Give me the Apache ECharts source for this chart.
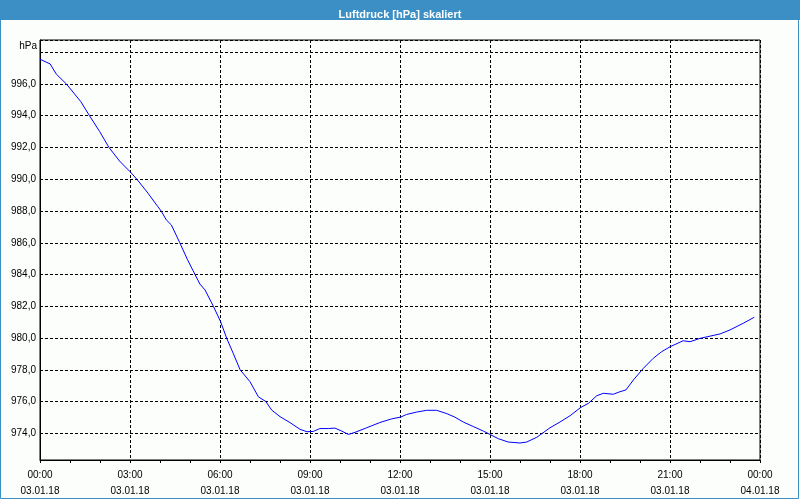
<!DOCTYPE html>
<html>
<head>
<meta charset="utf-8">
<script src="https://cdn.jsdelivr.net/npm/echarts@6/dist/echarts.min.js"></script>
<style>
html,body{margin:0;padding:0;background:#fcfefc;}
#main{width:800px;height:500px;}
</style>
</head>
<body>
<div id="main"></div>
<script>
// hours since 03.01.18 00:00
const hours = [0.00,0.34,0.54,0.88,1.36,1.65,1.99,2.30,2.65,3.00,3.23,3.60,3.93,4.04,4.21,4.38,4.66,4.91,5.10,5.33,5.50,5.78,6.02,6.22,6.44,6.67,7.00,7.28,7.53,7.72,8.00,8.33,8.67,8.90,9.11,9.33,9.61,9.83,10.06,10.28,10.50,10.89,11.33,11.72,12.02,12.22,12.56,12.89,13.22,13.56,13.83,14.11,14.44,14.78,15.02,15.28,15.61,16.00,16.22,16.56,17.00,17.33,17.67,18.01,18.28,18.56,18.78,19.11,19.33,19.53,19.78,20.11,20.44,20.72,21.01,21.44,21.67,22.00,22.67,23.00,23.44,23.81];
const pressure = [997.56,997.26,996.63,996.00,994.89,994.00,993.00,992.00,991.15,990.48,990.00,989.12,988.27,988.00,987.44,987.12,986.00,984.96,984.25,983.40,983.03,982.00,981.03,980.00,979.04,978.00,977.25,976.30,976.00,975.47,975.05,974.68,974.25,974.10,974.12,974.30,974.30,974.33,974.14,973.93,974.06,974.35,974.68,974.91,975.02,975.19,975.34,975.45,975.45,975.24,975.02,974.71,974.43,974.14,973.91,973.66,973.45,973.39,973.45,973.75,974.35,974.71,975.11,975.61,975.89,976.37,976.52,976.46,976.62,976.73,977.36,978.09,978.72,979.14,979.46,979.83,979.77,979.98,980.26,980.51,980.93,981.31];
const titleText = 'Luftdruck [hPa] skaliert';
const unitText = 'hPa';
const yMin = 972.32, yMax = 998.77;
const yLabelMax = 996; // highest labelled tick

const data = hours.map((h, i) => [h, pressure[i]]);
const font = 'Liberation Sans, Arial, sans-serif';

const chart = echarts.init(document.getElementById('main'), null, {renderer: 'canvas'});
chart.setOption({
  animation: false,
  backgroundColor: '#fcfefc',
  title: {
    text: titleText,
    left: 'center',
    top: 4,
    textStyle: {color: '#ffffff', fontSize: 11, fontWeight: 'bold', fontFamily: font}
  },
  graphic: [
    {type: 'rect', z: -10, shape: {x: 0, y: 0, width: 800, height: 20}, style: {fill: '#3c8fc4'}},
    {type: 'rect', z: -10, shape: {x: 0.5, y: 0.5, width: 798, height: 498}, style: {fill: null, stroke: '#3c8fc4', lineWidth: 1}},
    {type: 'text', x: 37, y: 46, style: {text: unitText, fill: '#000', font: '10px ' + font, textAlign: 'right', textVerticalAlign: 'middle'}}
  ],
  grid: {left: 40, right: 40, top: 40, bottom: 40, show: true, borderColor: '#000', borderWidth: 1, backgroundColor: 'transparent'},
  xAxis: {
    type: 'value',
    min: 0, max: 24, interval: 3,
    axisLine: {lineStyle: {color: '#000', width: 1}},
    axisTick: {show: true, length: 3, lineStyle: {color: '#000'}},
    minorTick: {show: true, splitNumber: 3, length: 3, lineStyle: {color: '#000'}},
    splitLine: {show: true, lineStyle: {color: '#000', type: [3, 2], width: 1}},
    axisLabel: {
      margin: 7,
      color: '#000',
      fontSize: 10,
      fontFamily: font,
      lineHeight: 16,
      formatter: function (h) {
        const day = 3 + Math.floor(h / 24);
        const hh = Math.round(h % 24);
        return String(hh).padStart(2, '0') + ':00\n' + String(day).padStart(2, '0') + '.01.18';
      }
    }
  },
  yAxis: {
    type: 'value',
    min: yMin, max: yMax, splitNumber: 13,
    axisLine: {show: true, lineStyle: {color: '#000', width: 1}},
    axisTick: {show: false},
    splitLine: {show: true, lineStyle: {color: '#000', type: [3, 2], width: 1}},
    axisLabel: {
      showMinLabel: false, showMaxLabel: false,
      margin: 4,
      color: '#000',
      fontSize: 10,
      fontFamily: font,
      formatter: function (v) { return v > yLabelMax + 0.5 ? '' : v.toFixed(1).replace('.', ','); }
    }
  },
  series: [{
    type: 'line',
    data: data,
    showSymbol: false,
    symbol: 'none',
    lineStyle: {color: '#0000ff', width: 1},
    silent: true
  }]
});
</script>
</body>
</html>
